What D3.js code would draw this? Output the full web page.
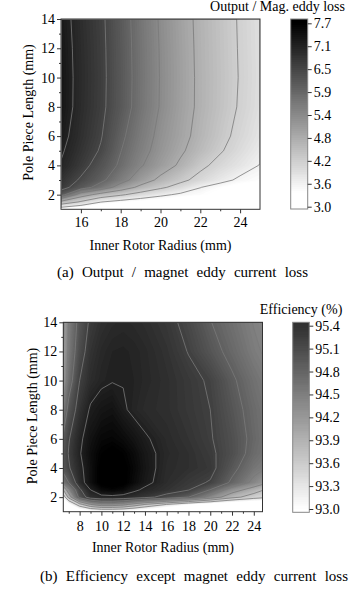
<!DOCTYPE html>
<html><head><meta charset="utf-8">
<script src="https://cdn.jsdelivr.net/npm/d3@7"></script>
<style>
body{margin:0;background:#fff}
svg{display:block}
text{font-family:"Liberation Serif","Times New Roman",serif;fill:#000}
</style>
</head><body>
<svg id="chart" width="355" height="590"></svg>
<script>
// ---------- Panel (a): Output / magnet eddy current loss ----------
const radiusA = [15,16,17,18,19,20,21,22,23,24,25];
const poleA = [1,1.5,2,2.5,3,4,5,6,8,10,12,14];
// rows follow poleA, columns follow radiusA
const ratioA = [
  [3.2, 3.0, 2.9, 2.85,2.8, 2.75,2.72,2.7, 2.66,2.63,2.6],
  [4.6, 4.1, 3.6, 3.4, 3.25,3.15,3.05,3.0, 2.95,2.9, 2.85],
  [6.15,5.05,4.55,4.25,3.95,3.7, 3.5, 3.4, 3.25,3.1, 3.0],
  [6.75,6.2, 5.7, 5.1, 4.62,4.27,3.97,3.6, 3.38,3.22,3.1],
  [6.85,6.46,6.06,5.57,5.06,4.63,4.30,4.01,3.74,3.5, 3.38],
  [7.08,6.71,6.29,5.85,5.4, 5.04,4.68,4.29,4.02,3.8, 3.57],
  [7.17,6.82,6.48,5.95,5.53,5.16,4.84,4.52,4.22,3.95,3.70],
  [7.25,6.89,6.56,6.04,5.61,5.22,4.92,4.61,4.32,4.04,3.8],
  [7.35,6.95,6.64,6.19,5.73,5.32,4.98,4.67,4.40,4.13,3.88],
  [7.35,6.96,6.65,6.2, 5.74,5.33,4.99,4.67,4.41,4.15,3.9],
  [7.33,6.95,6.64,6.19,5.73,5.32,4.98,4.66,4.40,4.14,3.89],
  [7.3, 6.925,6.62,6.17,5.71,5.3,4.96,4.65,4.39,4.13,3.88]
];
const cbLabelsA = ["3.0","3.6","4.2","4.8","5.4","5.9","6.5","7.1","7.7"];
const xMajorA = [16,18,20,22,24];
const xMinorA = [17,19,21,23];

// ---------- Panel (b): Efficiency except magnet eddy current loss ----------
const radiusB = [6.5,7,8,9,10,11,12,13,14,16,18,20,22,24,24.8];
const poleB = [1,1.5,2,2.5,3,4,5,6,8,10,12,14];
const effB = [
  [92.0, 92.3, 92.7, 92.85,92.9, 92.9, 92.88,92.82,92.72,92.55,92.45,92.38,92.3, 92.25,92.2],
  [92.5, 92.9, 93.5, 93.9, 94.1, 94.1, 94.0, 93.8, 93.6, 93.3, 93.03,92.85,92.7, 92.6, 92.55],
  [93.1, 93.7, 94.6, 94.95,95.02,95.03,95.0, 94.95,94.88,94.7, 94.5, 94.1, 93.7, 93.45,93.38],
  [93.6, 94.1, 94.75,95.1, 95.3, 95.35,95.3, 95.15,95.05,94.93,94.81,94.49,94.05,93.75,93.62],
  [94.3, 94.5, 94.98,95.25,95.45,95.5, 95.45,95.3, 95.17,94.98,94.87,94.78,94.45,94.13,94.0],
  [94.6, 94.77,95.03,95.25,95.45,95.52,95.45,95.33,95.2, 95.0, 94.95,94.88,94.58,94.3, 94.24],
  [94.6, 94.82,95.08,95.27,95.4, 95.46,95.4, 95.3, 95.18,95.02,94.95,94.85,94.66,94.4, 94.33],
  [94.55,94.78,95.05,95.23,95.33,95.35,95.3, 95.22,95.13,95.0, 94.92,94.82,94.65,94.43,94.35],
  [94.25,94.6, 94.92,95.13,95.2, 95.23,95.13,95.05,95.0, 94.96,94.88,94.8, 94.6, 94.4, 94.33],
  [93.97,94.35,94.8, 94.98,95.06,95.09,95.09,95.07,95.03,94.96,94.87,94.77,94.54,94.34,94.28],
  [93.88,94.25,94.68,94.92,95.02,95.07,95.08,95.06,95.02,94.93,94.79,94.6, 94.42,94.24,94.19],
  [93.83,94.22,94.6, 94.85,94.95,95.0, 95.02,95.0, 94.97,94.88,94.72,94.51,94.35,94.19,94.15]
];
const cbLabelsB = ["93.0","93.3","93.6","93.9","94.2","94.5","94.8","95.1","95.4"];
const xMajorB = [8,10,12,14,16,18,20,22,24];
const xMinorB = [7,9,11,13,15,17,19,21,23];

const yMajor = [2,4,6,8,10,12,14];
const yMinor = [3,5,7,9,11,13];

const svg = d3.select("#chart");

function interpIdx(arr, f) {
  f = Math.max(0, Math.min(arr.length - 1, f));
  const i = Math.min(arr.length - 2, Math.floor(f));
  return arr[i] + (f - i) * (arr[i + 1] - arr[i]);
}

function panel(o) {
  const g = svg.append("g");
  const x = d3.scaleLinear().domain(o.xDomain).range([o.left, o.right]);
  const y = d3.scaleLinear().domain(o.yDomain).range([o.bottom, o.top]);
  const nx = o.xs.length, ny = o.ys.length;
  const values = o.z.flat();
  const gray = t => { t = Math.max(0, Math.min(1, t)); const c = Math.round(255 * (1 - t)); return `rgb(${c},${c},${c})`; };
  const color = v => gray((v - o.white) / (o.black - o.white));
  const q = v => Math.floor(v / o.step) * o.step + o.step / 2;

  const proj = d3.geoTransform({
    point(cx, cy) { this.stream.point(x(interpIdx(o.xs, cx - 0.5)), y(interpIdx(o.ys, cy - 0.5))); }
  });
  const path = d3.geoPath(proj);

  const clipId = o.id + "-clip";
  svg.append("clipPath").attr("id", clipId).append("rect")
    .attr("x", o.left).attr("y", o.top).attr("width", o.right - o.left).attr("height", o.bottom - o.top);
  const plot = g.append("g").attr("clip-path", `url(#${clipId})`);

  const thresholds = d3.range(o.fillMin, o.fillMax, o.step);
  plot.append("rect").attr("x", o.left).attr("y", o.top)
    .attr("width", o.right - o.left).attr("height", o.bottom - o.top)
    .attr("fill", color(o.fillMin - o.step / 2));
  const bands = d3.contours().size([nx, ny]).thresholds(thresholds)(values);
  plot.selectAll("path.band").data(bands).join("path").attr("class", "band")
    .attr("d", path).attr("fill", d => color(d.value + o.step / 2));

  const lineLevels = d3.range(1, o.cbLabels.length - 1).map(i => o.cbMin + i * (o.cbMax - o.cbMin) / (o.cbLabels.length - 1));
  const lines = d3.contours().size([nx, ny]).thresholds(lineLevels)(values);
  plot.selectAll("path.cline").data(lines).join("path").attr("class", "cline")
    .attr("d", path).attr("fill", "none").attr("stroke", "#7a7a7a").attr("stroke-width", 0.8);

  // frame
  g.append("rect").attr("x", o.left).attr("y", o.top)
    .attr("width", o.right - o.left).attr("height", o.bottom - o.top)
    .attr("fill", "none").attr("stroke", "#333").attr("stroke-width", 1);

  const styleAxis = a => {
    a.select(".domain").remove();
    a.attr("font-size", 14).attr("font-family", '"Liberation Serif", serif');
    a.selectAll("line").attr("stroke", "#333");
  };
  g.append("g").attr("transform", `translate(0,${o.bottom})`)
    .call(d3.axisBottom(x).tickValues(o.xMajor).tickSize(4).tickPadding(o.xPad).tickFormat(d3.format("d"))).call(styleAxis);
  g.append("g").attr("transform", `translate(0,${o.bottom})`)
    .call(d3.axisBottom(x).tickValues(o.xMinor).tickSize(2).tickFormat("")).call(styleAxis);
  g.append("g").attr("transform", `translate(${o.left},0)`)
    .call(d3.axisLeft(y).tickValues(yMajor).tickSize(4).tickPadding(2).tickFormat(d3.format("d"))).call(styleAxis);
  g.append("g").attr("transform", `translate(${o.left},0)`)
    .call(d3.axisLeft(y).tickValues(yMinor).tickSize(2).tickFormat("")).call(styleAxis);

  g.append("text").attr("x", (o.left + o.right) / 2).attr("y", o.xTitleY)
    .attr("text-anchor", "middle").attr("font-size", 14).text("Inner Rotor Radius (mm)");
  g.append("text").attr("transform", `translate(${o.yTitleX},${o.yTitleCY}) rotate(-90)`)
    .attr("text-anchor", "middle").attr("font-size", 14).text("Pole Piece Length (mm)");

  // colorbar
  const cb = d3.scaleLinear().domain([o.cbMin, o.cbMax]).range([o.cbY0, o.cbY1]);
  const cbg = g.append("g");
  for (let py = o.cbTop; py < o.cbBottom; py += 1) {
    const v = cb.invert(py + 0.5);
    cbg.append("rect").attr("x", o.cbX0).attr("y", py).attr("width", o.cbX1 - o.cbX0).attr("height", 1.05)
      .attr("fill", color(q(v)));
  }
  cbg.append("rect").attr("x", o.cbX0).attr("y", o.cbTop).attr("width", o.cbX1 - o.cbX0)
    .attr("height", o.cbBottom - o.cbTop).attr("fill", "none").attr("stroke", "#888").attr("stroke-width", 1);
  const tickPos = d3.range(o.cbLabels.length).map(i => o.cbMin + i * (o.cbMax - o.cbMin) / (o.cbLabels.length - 1));
  g.append("g").attr("transform", `translate(${o.cbX1},0)`)
    .call(d3.axisRight(cb).tickValues(tickPos).tickSize(4).tickPadding(2)
      .tickFormat((d, i) => o.cbLabels[i])).call(styleAxis);
  g.append("text").attr("x", o.cbTitleX).attr("y", o.cbTitleY).attr("text-anchor", "end")
    .attr("font-size", 14).text(o.cbTitle);

  // caption, justified across its width
  const cap = g.append("text").attr("x", o.capX).attr("y", o.capY).attr("font-size", 15).text(o.caption);
  const w = cap.node().getComputedTextLength();
  const n = o.caption.split(" ").length - 1;
  cap.attr("word-spacing", Math.max(0, (o.capW - w) / n));
}

panel({
  id: "a", xs: radiusA, ys: poleA, z: ratioA,
  left: 61, right: 260, top: 19, bottom: 209.3,
  xDomain: [15, 25], yDomain: [1, 14], xMajor: xMajorA, xMinor: xMinorA, xPad: 4,
  white: 3.35, black: 7.7, step: 0.05, fillMin: 2.0, fillMax: 8.0,
  cbMin: 3.0, cbMax: 7.7, cbLabels: cbLabelsA,
  cbX0: 290.7, cbX1: 307.7, cbTop: 19, cbBottom: 209, cbY0: 206.7, cbY1: 23.3,
  cbTitle: "Output / Mag. eddy loss", cbTitleX: 345, cbTitleY: 11,
  xTitleY: 249.5, yTitleX: 33.3, yTitleCY: 112.5,
  caption: "(a) Output / magnet eddy current loss", capX: 57, capY: 277, capW: 251
});

panel({
  id: "b", xs: radiusB, ys: poleB, z: effB,
  left: 63.3, right: 262.5, top: 322.3, bottom: 511.7,
  xDomain: [6.5, 24.8], yDomain: [1, 14], xMajor: xMajorB, xMinor: xMinorB, xPad: 5.5,
  white: 93.0, black: 95.4, step: 0.03, fillMin: 91.5, fillMax: 96.0,
  cbMin: 93.0, cbMax: 95.4, cbLabels: cbLabelsB,
  cbX0: 292.7, cbX1: 309.3, cbTop: 322.3, cbBottom: 512.3, cbY0: 509, cbY1: 325.7,
  cbTitle: "Efficiency (%)", cbTitleX: 342.3, cbTitleY: 314,
  xTitleY: 551.5, yTitleX: 36.7, yTitleCY: 416,
  caption: "(b) Efficiency except magnet eddy current loss", capX: 40, capY: 580.5, capW: 308
});
</script>
</body></html>
